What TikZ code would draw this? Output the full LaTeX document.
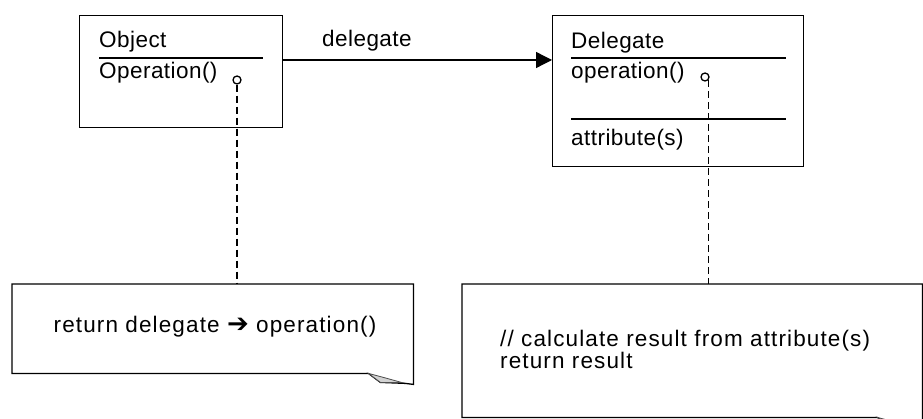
\documentclass[tikz,border=0pt]{standalone}
\usepackage{fontspec}
\setmainfont{Liberation Sans}[LetterSpace=2]
\newfontfamily\notefont{Liberation Sans}[LetterSpace=5]
\newfontfamily\symfont{DejaVu Sans}
\usetikzlibrary{arrows.meta,shapes.geometric}
\tikzset{
  umlbox/.style={draw, line width=1.3pt, anchor=north west, inner sep=0pt},
  notebox/.style={anchor=north west, inner sep=0pt},
  txt/.style={anchor=base west, inner sep=0pt, font=\fontsize{22.5}{28}\selectfont},
  notetxt/.style={anchor=base west, inner sep=0pt, font=\notefont\fontsize{22.5}{28}\selectfont},
  sepline/.style={line width=1.3pt},
  outline/.style={line width=1.3pt, line join=miter},
  assoc/.style={line width=1.3pt, -{Triangle[length=16pt,width=16pt]}},
  anchorline/.style={line width=1.3pt, dash pattern=on 7pt off 4pt},
  opcircle/.style={draw, circle, line width=1.3pt, minimum size=8pt, inner sep=0pt},
  fold/.style={fill=gray!35, draw=black!70, line width=0.8pt}
}
\begin{document}
\begin{tikzpicture}[x=1pt,y=-1pt]
\useasboundingbox (0,0) rectangle (923,419);

% Object class
\node[umlbox, minimum width=203pt, minimum height=112pt] (obj) at (79,15) {};
\node[txt] (objname) at (99,48) {Object};
\draw[sepline] (99,58) -- (263,58);
\node[txt] (objop) at (99,79) {Operation()};
\node[opcircle] (objc) at (237,80) {};

% Delegate class
\node[umlbox, minimum width=251pt, minimum height=151pt] (del) at (552,15) {};
\node[txt] (delname) at (571,49) {Delegate};
\draw[sepline] (571,58) -- (786,58);
\node[txt] (delop) at (571,79) {operation()};
\node[opcircle] (delc) at (705,77) {};
\draw[sepline] (571,119) -- (786,119);
\node[txt] (delattr) at (571,146) {attribute(s)};

% association
\coordinate (objport) at (282,60);
\coordinate (delport) at (552,60);
\draw[assoc] (objport) -- (delport);
\node[txt] (assoclbl) at (322,47) {delegate};

% note 1
\node[notebox, minimum width=401pt, minimum height=89pt] (note1) at (12,284) {};
\draw[outline] (note1.south west) -- (note1.north west) -- (note1.north east)
  -- ([yshift=-11pt]note1.south east) -- ([xshift=-8pt,yshift=-10pt]note1.south east)
  -- ([xshift=-33pt,yshift=-9pt]note1.south east)
  -- ([xshift=-45pt]note1.south east) -- cycle;
\fill[fold] ([xshift=-45pt]note1.south east) -- ([xshift=-33pt,yshift=-9pt]note1.south east)
  -- ([xshift=-12pt,yshift=-9pt]note1.south east) -- ([xshift=-30pt,yshift=-4pt]note1.south east) -- cycle;
\node[notetxt, anchor=base] (note1txt) at (215,333) {return delegate {\symfont\fontsize{26}{28}\selectfont ➔} operation()};

% note 2
\node[notebox, minimum width=460pt, minimum height=133pt] (note2) at (462,284) {};
\draw[outline] (note2.south west) -- (note2.north west) -- (note2.north east)
  -- ([yshift=-11pt]note2.south east) -- ([xshift=-8pt,yshift=-10pt]note2.south east)
  -- ([xshift=-33pt,yshift=-9pt]note2.south east)
  -- ([xshift=-45pt]note2.south east) -- cycle;
\fill[fold] ([xshift=-45pt]note2.south east) -- ([xshift=-33pt,yshift=-9pt]note2.south east)
  -- ([xshift=-12pt,yshift=-9pt]note2.south east) -- ([xshift=-30pt,yshift=-4pt]note2.south east) -- cycle;
\node[notetxt] (note2l1) at (500,346) {// calculate result from attribute(s)};
\node[notetxt] (note2l2) at (500,368) {return result};

% anchor lines
\draw[anchorline] (objc.south) -- (objc.south |- note1.north);
\draw[anchorline] (delc.south east) -- (delc.south east |- note2.north);
\end{tikzpicture}
\end{document}
